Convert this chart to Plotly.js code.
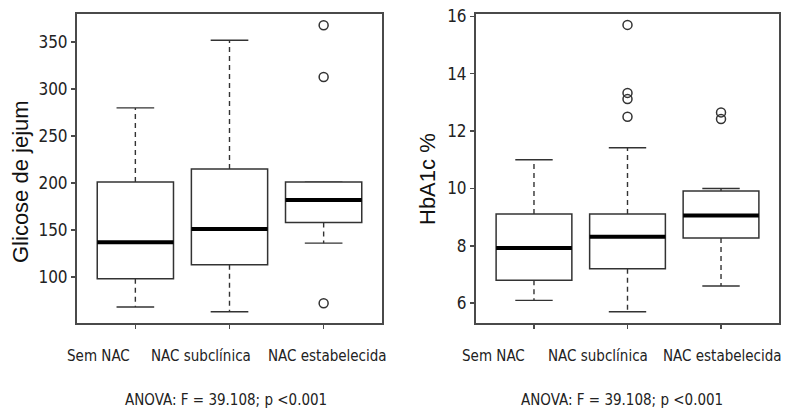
<!DOCTYPE html>
<html>
<head>
<meta charset="utf-8">
<script src="https://cdn.plot.ly/plotly-3.0.1.min.js"></script>
<style>html,body{margin:0;padding:0;background:#fff}#chart{width:790px;height:416px}</style>
</head>
<body>
<div id="chart"></div>
<script>
// ---- data ----
const categories = ["Sem NAC", "NAC subclínica", "NAC estabelecida"];

// Panel 1: Glicose de jejum
const glic_lower = [68, 63, 136];
const glic_q1 = [98, 113, 158];
const glic_median = [137, 151, 182];
const glic_q3 = [201, 215, 201];
const glic_upper = [280, 352, 201];
const glic_outlier_group = [2, 2, 2];
const glic_outlier_value = [368, 313, 72];

// Panel 2: HbA1c %
const hba_lower = [6.1, 5.7, 6.6];
const hba_q1 = [6.8, 7.2, 8.27];
const hba_median = [7.92, 8.32, 9.06];
const hba_q3 = [9.11, 9.11, 9.91];
const hba_upper = [11.0, 11.42, 10.0];
const hba_outlier_group = [1, 1, 1, 1, 2, 2];
const hba_outlier_value = [15.7, 13.33, 13.12, 12.5, 12.65, 12.42];

const yTitles = ["Glicose de jejum", "HbA1c %"];
const anovaText = "ANOVA: F = 39.108; p <0.001";

// ---- styles / layout ----
const NARROW = "'Liberation Sans Narrow', 'Arial Narrow', 'DejaVu Sans Condensed', sans-serif";
const BOXHALF = 0.405, CAPHALF = 0.2;
const boxLine = "#333";
const frameColor = "#4a4a4a";

const shapes = [];
function addBoxes(xr, yr, lo, q1, med, q3, hi) {
  for (let i = 0; i < categories.length; i++) {
    // whiskers (dashed)
    if (hi[i] > q3[i]) shapes.push({type: "line", xref: xr, yref: yr, x0: i, x1: i, y0: q3[i], y1: hi[i], line: {color: boxLine, width: 1.4, dash: "5px,4px"}});
    if (lo[i] < q1[i]) shapes.push({type: "line", xref: xr, yref: yr, x0: i, x1: i, y0: q1[i], y1: lo[i], line: {color: boxLine, width: 1.4, dash: "5px,4px"}});
    // caps
    shapes.push({type: "line", xref: xr, yref: yr, x0: i - CAPHALF, x1: i + CAPHALF, y0: hi[i], y1: hi[i], line: {color: boxLine, width: 1.4}});
    shapes.push({type: "line", xref: xr, yref: yr, x0: i - CAPHALF, x1: i + CAPHALF, y0: lo[i], y1: lo[i], line: {color: boxLine, width: 1.4}});
    // box
    shapes.push({type: "rect", xref: xr, yref: yr, x0: i - BOXHALF, x1: i + BOXHALF, y0: q1[i], y1: q3[i], line: {color: boxLine, width: 1.5}, fillcolor: "rgba(255,255,255,1)"});
    // median
    shapes.push({type: "line", xref: xr, yref: yr, x0: i - BOXHALF, x1: i + BOXHALF, y0: med[i], y1: med[i], line: {color: "#000", width: 4}});
  }
}
addBoxes("x", "y", glic_lower, glic_q1, glic_median, glic_q3, glic_upper);
addBoxes("x2", "y2", hba_lower, hba_q1, hba_median, hba_q3, hba_upper);

const markerStyle = {symbol: "circle-open", size: 9, color: "#333", line: {width: 1.5, color: "#333"}};
const traces = [
  {type: "scatter", mode: "markers", x: glic_outlier_group, y: glic_outlier_value, xaxis: "x", yaxis: "y", marker: markerStyle, hoverinfo: "y", showlegend: false},
  {type: "scatter", mode: "markers", x: hba_outlier_group, y: hba_outlier_value, xaxis: "x2", yaxis: "y2", marker: markerStyle, hoverinfo: "y", showlegend: false}
];

const W = 790, H = 416;
const px = v => v / W, py = v => 1 - v / H;

function xAxis(domain) {
  return {domain: domain, range: [-0.62, 2.62], tickvals: [0, 1, 2], ticktext: ["", "", ""],
    ticks: "outside", ticklen: 4, tickwidth: 1.5, tickcolor: frameColor,
    showline: true, mirror: true, linecolor: frameColor, linewidth: 2,
    showgrid: false, zeroline: false, fixedrange: true};
}
function yAxis(range, tickvals, anchor) {
  return {domain: [py(323), py(14)], range: range, tickvals: tickvals, anchor: anchor,
    ticks: "outside", ticklen: 4, tickwidth: 1.5, tickcolor: frameColor,
    tickfont: {family: NARROW, size: 17, color: "#222"},
    showline: true, mirror: true, linecolor: frameColor, linewidth: 2,
    showgrid: false, zeroline: false, fixedrange: true};
}

const labelFont = {family: NARROW, size: 15, color: "#222"};
const labelPosLeft = [98, 201, 327];
const labelPosRight = [493, 598, 722];
const annotations = [];
categories.forEach((c, i) => {
  annotations.push({text: c, xref: "paper", yref: "paper", x: px(labelPosLeft[i]), y: py(356), showarrow: false, xanchor: "center", yanchor: "middle", font: labelFont});
  annotations.push({text: c, xref: "paper", yref: "paper", x: px(labelPosRight[i]), y: py(356), showarrow: false, xanchor: "center", yanchor: "middle", font: labelFont});
});
annotations.push({text: anovaText, xref: "paper", yref: "paper", x: px(226), y: py(400), showarrow: false, xanchor: "center", yanchor: "middle", font: labelFont});
annotations.push({text: anovaText, xref: "paper", yref: "paper", x: px(622), y: py(400), showarrow: false, xanchor: "center", yanchor: "middle", font: labelFont});
const titleFont = {family: "'Liberation Sans', Arial, sans-serif", size: 22, color: "#111"};
annotations.push({text: yTitles[0], xref: "paper", yref: "paper", x: px(20), y: py(182), textangle: -90, showarrow: false, xanchor: "center", yanchor: "middle", font: titleFont});
annotations.push({text: yTitles[1], xref: "paper", yref: "paper", x: px(427), y: py(179), textangle: -90, showarrow: false, xanchor: "center", yanchor: "middle", font: titleFont});

const layout = {
  width: W, height: H,
  margin: {l: 0, r: 0, t: 0, b: 0},
  paper_bgcolor: "#fff", plot_bgcolor: "#fff",
  showlegend: false,
  xaxis: xAxis([px(77), px(382)]),
  yaxis: yAxis([51, 380], [100, 150, 200, 250, 300, 350], "x"),
  xaxis2: Object.assign(xAxis([px(476), px(779)]), {anchor: "y2"}),
  yaxis2: yAxis([5.31, 16.08], [6, 8, 10, 12, 14, 16], "x2"),
  shapes: shapes,
  annotations: annotations
};
layout.xaxis.anchor = "y";

Plotly.newPlot("chart", traces, layout, {displayModeBar: false, staticPlot: true});
</script>
</body>
</html>
